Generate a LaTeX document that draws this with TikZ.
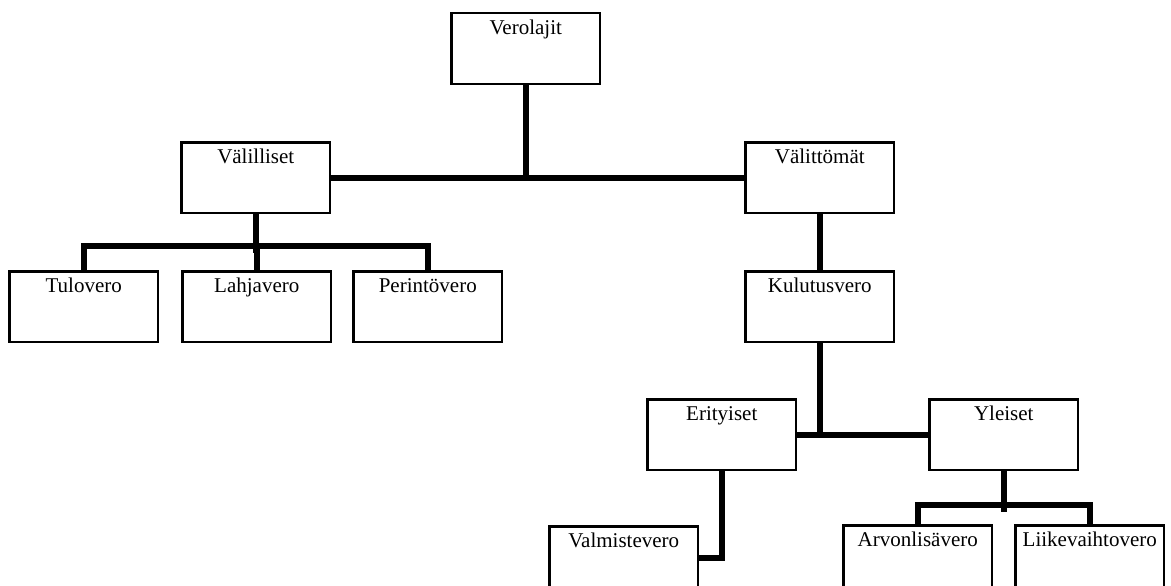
\documentclass[tikz,border=0pt]{standalone}
\usepackage{fontspec}
\setmainfont{Liberation Serif}
\usetikzlibrary{calc}
\begin{document}
\begin{tikzpicture}[x=1pt,y=-1pt,
  taxbox/.style={draw, line width=1.5pt, fill=white, anchor=north west,
    minimum width=148pt, inner sep=0pt, text height=21pt, text depth=49pt,
    font=\fontsize{21}{25}\selectfont},
  conn/.style={line width=6pt}]
\useasboundingbox (0,0) rectangle (1171,586);
\coordinate (vmvj) at (697,558);
% nodes
\node[taxbox] (vero) at (451,13) {Verolajit};
\node[taxbox] (vali) at (181,142) {Välilliset};
\node[taxbox] (valit) at (745,142) {Välittömät};
\node[taxbox] (tulo) at (9,271) {Tulovero};
\node[taxbox] (lahja) at (182,271) {Lahjavero};
\node[taxbox] (perin) at (353,271) {Perintövero};
\node[taxbox] (kulu) at (745,271) {Kulutusvero};
\node[taxbox] (eri) at (647,399) {Erityiset};
\node[taxbox] (yle) at (929,399) {Yleiset};
\node[taxbox] (valm) at (549,526) {Valmistevero};
\node[taxbox] (arvo) at (843,525) {Arvonlisävero};
\node[taxbox] (liike) at (1015,525) {Liikevaihtovero};
% tree connectors
\draw[conn] (vero.south) -- (vero.south |- vali.east);
\draw[conn] (vali.east) -- (vero.south |- vali.east);
\draw[conn] ($(vero.south |- valit.west)+(-3,0)$) -- (valit.west);
\draw[conn] (vali.south) -- ($(vali.south)+(0,39)$);
\draw[conn] ($(tulo.north)+(0,-25)$) -- ($(perin.north)+(0,-25)$);
\draw[conn] (tulo.north) -- ($(tulo.north)+(0,-28)$);
\draw[conn] (lahja.north) -- ($(lahja.north)+(0,-28)$);
\draw[conn] (perin.north) -- ($(perin.north)+(0,-28)$);
\draw[conn] (valit.south) -- (kulu.north);
\draw[conn] (kulu.south) -- (kulu.south |- eri.east);
\draw[conn] (eri.east) -- (yle.west);
\draw[conn] (eri.south) -- (eri.south |- vmvj);
\draw[conn] ($(eri.south |- vmvj)+(3,0)$) -- (vmvj);
\draw[conn] (yle.south) -- ($(yle.south)+(0,41)$);
\draw[conn] ($(arvo.north)+(-3,-20)$) -- ($(liike.north)+(3,-20)$);
\draw[conn] (arvo.north) -- ($(arvo.north)+(0,-23)$);
\draw[conn] (liike.north) -- ($(liike.north)+(0,-23)$);
% redraw box borders on top of connector ends
\foreach \n in {vero,vali,valit,tulo,lahja,perin,kulu,eri,yle,valm,arvo,liike}{
  \draw[line width=1.5pt] (\n.north west) rectangle (\n.south east);
}
\end{tikzpicture}
\end{document}
